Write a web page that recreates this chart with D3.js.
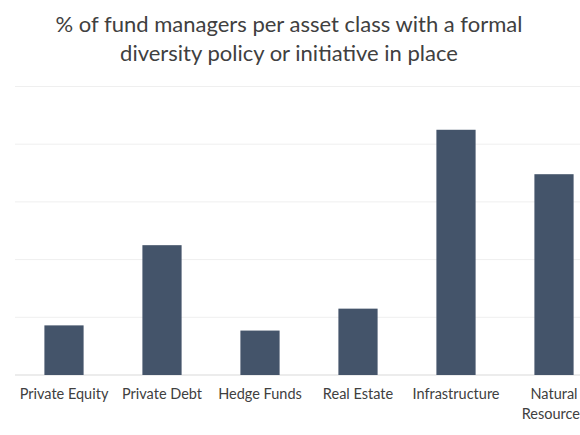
<!DOCTYPE html>
<html>
<head>
<meta charset="utf-8">
<script src="https://cdn.jsdelivr.net/npm/d3@7"></script>
<style>
  body { margin: 0; background: #fff; }
  svg text { font-family: Lato, "Open Sans", sans-serif; fill: #404040; }
</style>
</head>
<body>
<div id="chart-area"></div>
<script>
const categories = ["Private Equity", "Private Debt", "Hedge Funds", "Real Estate", "Infrastructure", "Natural Resources"];
const values = [8.6, 22.5, 7.7, 11.5, 42.5, 34.8];
const gridTicks = [0, 10, 20, 30, 40, 50];
const titleLines = ["% of fund managers per asset class with a formal", "diversity policy or initiative in place"];

const renderData = () => {
    const w = 580;
    const h = 435;

    const xScale = d3.scaleBand()
                        .domain(categories)
                        .range([15, 603])
                        .paddingInner(0.6)
                        .paddingOuter(0.3);

    const yScale = d3.scaleLinear()
                        .domain([0, 50])
                        .range([375, 86.5]);

    const svg = d3.select("#chart-area")
        .append("svg")
        .attr("width", w)
        .attr("height", h);

    svg.selectAll(".title")
        .data(titleLines)
        .enter()
        .append("text")
        .attr("class", "title")
        .attr("x", 289)
        .attr("y", (d, i) => 32 + i * 28.5)
        .attr("text-anchor", "middle")
        .style("font-size", "22px")
        .text(d => d);

    // gridlines
    svg.selectAll(".grid")
        .data(gridTicks)
        .enter()
        .append("line")
        .attr("class", "grid")
        .attr("x1", 15)
        .attr("x2", 603)
        .attr("y1", d => yScale(d))
        .attr("y2", d => yScale(d))
        .attr("stroke", d => d === 0 ? "#d9d9d9" : "#efefef")
        .attr("stroke-width", 1);

    svg.selectAll(".bar")
        .data(values)
        .enter()
        .append("rect")
        .attr("class", "bar")
        .attr("x", (d, i) => xScale(categories[i]))
        .attr("y", d => yScale(d))
        .attr("width", xScale.bandwidth())
        .attr("height", d => yScale(0) - yScale(d))
        .attr("fill", "#44546a");

    const xAxis = d3.axisBottom(xScale).tickSize(0).tickPadding(14);

    const gx = svg.append("g")
        .attr("transform", "translate(0,375)")
        .attr("id", "x-axis")
        .call(xAxis);

    gx.select(".domain").remove();
    gx.selectAll("text")
        .style("font-size", "14.5px")
        .attr("fill", "#404040")
        .each(function(d) {
            const t = d3.select(this);
            if (d === "Natural Resources") {
                t.text(null);
                t.append("tspan").attr("x", 0).attr("dy", "0.71em").text("Natural");
                t.append("tspan").attr("x", 0).attr("dy", "1.38em").text("Resources");
                t.attr("dy", null);
            }
        });
}

renderData();
</script>
</body>
</html>
